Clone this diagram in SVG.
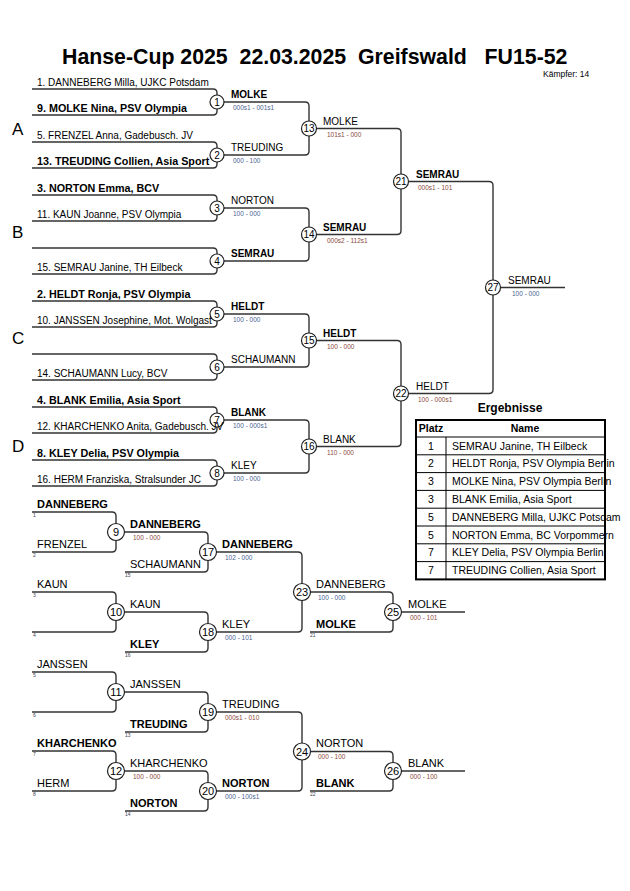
<svg xmlns="http://www.w3.org/2000/svg" width="630" height="891" viewBox="0 0 630 891">
<style>
text{font-family:"Liberation Sans",Arial,sans-serif;fill:#000}
.ln{fill:none;stroke:#333;stroke-width:1.4}
.c{fill:#fff;stroke:#222;stroke-width:1.2}
.cn{font-size:10px;text-anchor:middle}
.cr{font-size:11px;text-anchor:middle}
.e{font-size:10px}
.eb{font-size:10.75px;font-weight:bold}
.w{font-size:10px}
.wb{font-size:10px;font-weight:bold}
.r{font-size:11px}
.rb{font-size:11px;font-weight:bold}
.sr{font-size:6.5px;fill:#8a4a3c}
.sb{font-size:6.5px;fill:#4a5f92}
.sd{font-size:5px;fill:#445}
.grp{font-size:17px}
.tb{fill:none;stroke:#000;stroke-width:2}
.ti{fill:none;stroke:#000;stroke-width:1}
.tt{font-size:10.5px}
.th{font-size:10.5px;font-weight:bold;text-anchor:middle}
</style>
<rect width="630" height="891" fill="#fff"/>
<g id="title">
<text x="62" y="64" style="font-size:21.3px;font-weight:bold;white-space:pre" xml:space="preserve">Hanse-Cup 2025  22.03.2025  Greifswald   FU15-52</text>
<text x="543" y="77" style="font-size:8.5px">Kämpfer: 14</text>
</g>
<g id="groups">
<text class="grp" x="12" y="135">A</text>
<text class="grp" x="12" y="238">B</text>
<text class="grp" x="12" y="344">C</text>
<text class="grp" x="12" y="452">D</text>
</g>
<g id="connectors">
<path class="ln" d="M32,89 H213 Q217,89 217,93 V111 Q217,115 213,115 H32"/>
<path class="ln" d="M32,142 H213 Q217,142 217,146 V164 Q217,168 213,168 H32"/>
<path class="ln" d="M32,195 H213 Q217,195 217,199 V217 Q217,221 213,221 H32"/>
<path class="ln" d="M32,248 H213 Q217,248 217,252 V270 Q217,274 213,274 H32"/>
<path class="ln" d="M32,301 H213 Q217,301 217,305 V323 Q217,327 213,327 H32"/>
<path class="ln" d="M32,354 H213 Q217,354 217,358 V376 Q217,380 213,380 H32"/>
<path class="ln" d="M32,407 H213 Q217,407 217,411 V429 Q217,433 213,433 H32"/>
<path class="ln" d="M32,460 H213 Q217,460 217,464 V482 Q217,486 213,486 H32"/>
<path class="ln" d="M217,102 H305 Q309,102 309,106 V151 Q309,155 305,155 H217"/>
<path class="ln" d="M217,208 H305 Q309,208 309,212 V257 Q309,261 305,261 H217"/>
<path class="ln" d="M217,314 H305 Q309,314 309,318 V363 Q309,367 305,367 H217"/>
<path class="ln" d="M217,420 H305 Q309,420 309,424 V469 Q309,473 305,473 H217"/>
<path class="ln" d="M309,128.5 H397 Q401,128.5 401,132.5 V230.5 Q401,234.5 397,234.5 H309"/>
<path class="ln" d="M309,340.5 H397 Q401,340.5 401,344.5 V442.5 Q401,446.5 397,446.5 H309"/>
<path class="ln" d="M401,181.5 H489 Q493,181.5 493,185.5 V389.5 Q493,393.5 489,393.5 H401"/>
<path class="ln" d="M493,287.5 H565"/>
<path class="ln" d="M32,512 H112 Q116,512 116,516 V548 Q116,552 112,552 H32"/>
<path class="ln" d="M32,592 H112 Q116,592 116,596 V628 Q116,632 112,632 H32"/>
<path class="ln" d="M32,672 H112 Q116,672 116,676 V708 Q116,712 112,712 H32"/>
<path class="ln" d="M32,751 H112 Q116,751 116,755 V787 Q116,791 112,791 H32"/>
<path class="ln" d="M116,532 H204 Q208,532 208,536 V568 Q208,572 204,572 H125"/>
<path class="ln" d="M116,612 H204 Q208,612 208,616 V648 Q208,652 204,652 H125"/>
<path class="ln" d="M116,692 H204 Q208,692 208,696 V728 Q208,732 204,732 H125"/>
<path class="ln" d="M116,771 H204 Q208,771 208,775 V807 Q208,811 204,811 H125"/>
<path class="ln" d="M208,552 H298 Q302,552 302,556 V628 Q302,632 298,632 H208"/>
<path class="ln" d="M208,712 H298 Q302,712 302,716 V787 Q302,791 298,791 H208"/>
<path class="ln" d="M302,592 H389 Q393,592 393,596 V628 Q393,632 389,632 H310"/>
<path class="ln" d="M302,751.5 H389 Q393,751.5 393,755.5 V787 Q393,791 389,791 H310"/>
<path class="ln" d="M393,612 H465"/>
<path class="ln" d="M393,771 H465"/>
</g>
<g id="m1"><circle class="c" cx="217" cy="102" r="7"/><text class="cn" x="217" y="105.5">1</text><text class="wb" x="231" y="98">MOLKE</text><text class="sb" x="233" y="110">000s1 - 001s1</text></g>
<g id="m2"><circle class="c" cx="217" cy="155" r="7"/><text class="cn" x="217" y="158.5">2</text><text class="w" x="231" y="151">TREUDING</text><text class="sb" x="233" y="163">000 - 100</text></g>
<g id="m3"><circle class="c" cx="217" cy="208" r="7"/><text class="cn" x="217" y="211.5">3</text><text class="w" x="231" y="204">NORTON</text><text class="sb" x="233" y="216">100 - 000</text></g>
<g id="m4"><circle class="c" cx="217" cy="261" r="7"/><text class="cn" x="217" y="264.5">4</text><text class="wb" x="231" y="257">SEMRAU</text></g>
<g id="m5"><circle class="c" cx="217" cy="314" r="7"/><text class="cn" x="217" y="317.5">5</text><text class="wb" x="231" y="310">HELDT</text><text class="sb" x="233" y="322">100 - 000</text></g>
<g id="m6"><circle class="c" cx="217" cy="367" r="7"/><text class="cn" x="217" y="370.5">6</text><text class="w" x="231" y="363">SCHAUMANN</text></g>
<g id="m7"><circle class="c" cx="217" cy="420" r="7"/><text class="cn" x="217" y="423.5">7</text><text class="wb" x="231" y="416">BLANK</text><text class="sb" x="233" y="428">100 - 000s1</text></g>
<g id="m8"><circle class="c" cx="217" cy="473" r="7"/><text class="cn" x="217" y="476.5">8</text><text class="w" x="231" y="469">KLEY</text><text class="sb" x="233" y="481">100 - 000</text></g>
<g id="m13"><circle class="c" cx="309" cy="128.5" r="7.5"/><text class="cn" x="309" y="132">13</text><text class="w" x="323" y="125">MOLKE</text><text class="sr" x="327" y="137">101s1 - 000</text></g>
<g id="m14"><circle class="c" cx="309" cy="234.5" r="7.5"/><text class="cn" x="309" y="238">14</text><text class="wb" x="323" y="231">SEMRAU</text><text class="sr" x="327" y="243">000s2 - 112s1</text></g>
<g id="m15"><circle class="c" cx="309" cy="340.5" r="7.5"/><text class="cn" x="309" y="344">15</text><text class="wb" x="323" y="337">HELDT</text><text class="sr" x="327" y="349">100 - 000</text></g>
<g id="m16"><circle class="c" cx="309" cy="446.5" r="7.5"/><text class="cn" x="309" y="450">16</text><text class="w" x="323" y="443">BLANK</text><text class="sr" x="327" y="455">110 - 000</text></g>
<g id="m21"><circle class="c" cx="401" cy="181.5" r="7.5"/><text class="cn" x="401" y="185">21</text><text class="wb" x="416" y="178">SEMRAU</text><text class="sr" x="418" y="190">000s1 - 101</text></g>
<g id="m22"><circle class="c" cx="401" cy="393.5" r="7.5"/><text class="cn" x="401" y="397">22</text><text class="w" x="416" y="390">HELDT</text><text class="sr" x="418" y="402">100 - 000s1</text></g>
<g id="m27"><circle class="c" cx="493" cy="287.5" r="7.5"/><text class="cn" x="493" y="291">27</text><text class="w" x="508" y="284">SEMRAU</text><text class="sb" x="512" y="296">100 - 000</text></g>
<g id="entries">
<text class="e" x="37" y="86">1. DANNEBERG Milla, UJKC Potsdam</text>
<text class="eb" x="37" y="112">9. MOLKE Nina, PSV Olympia</text>
<text class="e" x="37" y="139">5. FRENZEL Anna, Gadebusch. JV</text>
<text class="eb" x="37" y="165">13. TREUDING Collien, Asia Sport</text>
<text class="eb" x="37" y="192">3. NORTON Emma, BCV</text>
<text class="e" x="37" y="218">11. KAUN Joanne, PSV Olympia</text>
<text class="e" x="37" y="271">15. SEMRAU Janine, TH Eilbeck</text>
<text class="eb" x="37" y="298">2. HELDT Ronja, PSV Olympia</text>
<text class="e" x="37" y="324">10. JANSSEN Josephine, Mot. Wolgast</text>
<text class="e" x="37" y="377">14. SCHAUMANN Lucy, BCV</text>
<text class="eb" x="37" y="404">4. BLANK Emilia, Asia Sport</text>
<text class="e" x="37" y="430">12. KHARCHENKO Anita, Gadebusch. JV</text>
<text class="eb" x="37" y="457">8. KLEY Delia, PSV Olympia</text>
<text class="e" x="37" y="483">16. HERM Franziska, Stralsunder JC</text>
</g>
<g id="results">
<text x="510" y="412" style="font-size:12px;font-weight:bold;text-anchor:middle">Ergebnisse</text>
<text class="th" x="431" y="432">Platz</text>
<text class="th" x="525" y="432">Name</text>
<g class="tt">
<text x="431" y="449.5" text-anchor="middle">1</text><text x="452" y="449.5">SEMRAU Janine, TH Eilbeck</text>
<text x="431" y="467.3" text-anchor="middle">2</text><text x="452" y="467.3">HELDT Ronja, PSV Olympia Berlin</text>
<text x="431" y="485.1" text-anchor="middle">3</text><text x="452" y="485.1">MOLKE Nina, PSV Olympia Berlin</text>
<text x="431" y="502.9" text-anchor="middle">3</text><text x="452" y="502.9">BLANK Emilia, Asia Sport</text>
<text x="431" y="520.7" text-anchor="middle">5</text><text x="452" y="520.7">DANNEBERG Milla, UJKC Potsdam</text>
<text x="431" y="538.5" text-anchor="middle">5</text><text x="452" y="538.5">NORTON Emma, BC Vorpommern</text>
<text x="431" y="556.3" text-anchor="middle">7</text><text x="452" y="556.3">KLEY Delia, PSV Olympia Berlin</text>
<text x="431" y="574.1" text-anchor="middle">7</text><text x="452" y="574.1">TREUDING Collien, Asia Sport</text>
</g>
<path class="ti" d="M416,437 H604 M416,454.8 H604 M416,472.6 H604 M416,490.4 H604 M416,508.2 H604 M416,526 H604 M416,543.8 H604 M416,561.6 H604 M446,437 V579.4"/>
<rect class="tb" x="416" y="420" width="189" height="159.4"/>
</g>
<g id="m9"><circle class="c" cx="116" cy="532" r="8.5"/><text class="cr" x="116" y="536">9</text><text class="rb" x="130" y="528">DANNEBERG</text><text class="sr" x="133" y="540">100 - 000</text></g>
<g id="m10"><circle class="c" cx="116" cy="612" r="8.5"/><text class="cr" x="116" y="616">10</text><text class="r" x="130" y="608">KAUN</text></g>
<g id="m11"><circle class="c" cx="116" cy="692" r="8.5"/><text class="cr" x="116" y="696">11</text><text class="r" x="130" y="688">JANSSEN</text></g>
<g id="m12"><circle class="c" cx="116" cy="771" r="8.5"/><text class="cr" x="116" y="775">12</text><text class="r" x="130" y="767">KHARCHENKO</text><text class="sr" x="133" y="779">100 - 000</text></g>
<g id="m17"><circle class="c" cx="208" cy="552" r="8.5"/><text class="cr" x="208" y="556">17</text><text class="rb" x="222" y="548">DANNEBERG</text><text class="sb" x="225" y="560">102 - 000</text></g>
<g id="m18"><circle class="c" cx="208" cy="632" r="8.5"/><text class="cr" x="208" y="636">18</text><text class="r" x="222" y="628">KLEY</text><text class="sb" x="225" y="640">000 - 101</text></g>
<g id="m19"><circle class="c" cx="208" cy="712" r="8.5"/><text class="cr" x="208" y="716">19</text><text class="r" x="222" y="708">TREUDING</text><text class="sr" x="225" y="720">000s1 - 010</text></g>
<g id="m20"><circle class="c" cx="208" cy="791" r="8.5"/><text class="cr" x="208" y="795">20</text><text class="rb" x="222" y="787">NORTON</text><text class="sb" x="225" y="799">000 - 100s1</text></g>
<g id="m23"><circle class="c" cx="302" cy="592" r="8.5"/><text class="cr" x="302" y="596">23</text><text class="r" x="316" y="588">DANNEBERG</text><text class="sb" x="318" y="600">100 - 000</text></g>
<g id="m24"><circle class="c" cx="302" cy="751.5" r="8.5"/><text class="cr" x="302" y="755.5">24</text><text class="r" x="316" y="747">NORTON</text><text class="sr" x="318" y="759">000 - 100</text></g>
<g id="m25"><circle class="c" cx="393" cy="612" r="8.5"/><text class="cr" x="393" y="616">25</text><text class="r" x="408" y="608">MOLKE</text><text class="sr" x="410" y="620">000 - 101</text></g>
<g id="m26"><circle class="c" cx="393" cy="771" r="8.5"/><text class="cr" x="393" y="775">26</text><text class="r" x="408" y="767">BLANK</text><text class="sr" x="410" y="779">000 - 100</text></g>
<g id="rep-entries">
<text class="rb" x="37" y="508">DANNEBERG</text><text class="sd" x="33" y="517">1</text>
<text class="r" x="37" y="548">FRENZEL</text><text class="sd" x="33" y="557">2</text>
<text class="r" x="37" y="588">KAUN</text><text class="sd" x="33" y="597">3</text>
<text class="sd" x="33" y="637">4</text>
<text class="r" x="37" y="668">JANSSEN</text><text class="sd" x="33" y="677">5</text>
<text class="sd" x="33" y="717">6</text>
<text class="rb" x="37" y="747">KHARCHENKO</text><text class="sd" x="33" y="756">7</text>
<text class="r" x="37" y="787">HERM</text><text class="sd" x="33" y="796">8</text>
<text class="r" x="130" y="568">SCHAUMANN</text><text class="sd" x="125" y="577">15</text>
<text class="rb" x="130" y="648">KLEY</text><text class="sd" x="125" y="657">16</text>
<text class="rb" x="130" y="728">TREUDING</text><text class="sd" x="125" y="737">13</text>
<text class="rb" x="130" y="807">NORTON</text><text class="sd" x="125" y="816">14</text>
<text class="rb" x="316" y="628">MOLKE</text><text class="sd" x="310" y="637">21</text>
<text class="rb" x="316" y="787">BLANK</text><text class="sd" x="310" y="796">22</text>
</g>
</svg>
